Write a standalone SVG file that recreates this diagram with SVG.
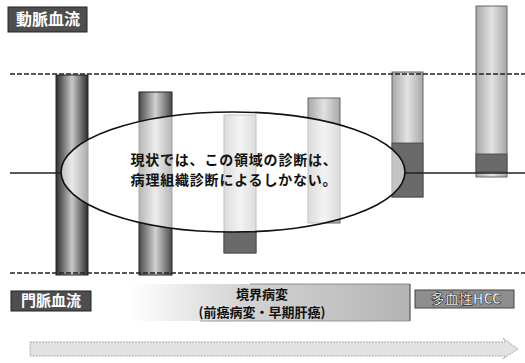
<svg xmlns="http://www.w3.org/2000/svg" width="525" height="363" viewBox="0 0 525 363">
  <defs>
    <linearGradient id="darkBar" x1="0" y1="0" x2="1" y2="0">
      <stop offset="0" stop-color="#2e2e2e"/>
      <stop offset="0.5" stop-color="#c8c8c8"/>
      <stop offset="1" stop-color="#2e2e2e"/>
    </linearGradient>
    <linearGradient id="midBar" x1="0" y1="0" x2="1" y2="0">
      <stop offset="0" stop-color="#4a4a4a"/>
      <stop offset="0.5" stop-color="#d2d2d2"/>
      <stop offset="1" stop-color="#4a4a4a"/>
    </linearGradient>
    <linearGradient id="lightBar" x1="0" y1="0" x2="1" y2="0">
      <stop offset="0" stop-color="#a8a8a8"/>
      <stop offset="0.5" stop-color="#e2e2e2"/>
      <stop offset="1" stop-color="#a8a8a8"/>
    </linearGradient>
    <linearGradient id="fadeBox" x1="0" y1="0" x2="1" y2="0">
      <stop offset="0" stop-color="#c8c8c8" stop-opacity="0"/>
      <stop offset="0.4" stop-color="#c8c8c8" stop-opacity="0.8"/>
      <stop offset="1" stop-color="#b4b4b4"/>
    </linearGradient>
    <style>
      .lbl { font-family: "Noto Sans CJK JP", "Liberation Sans", sans-serif; font-weight: bold; }
      .dark { fill: #4e4e4e; stroke: #222; stroke-width: 1; }
      .light { fill: url(#lightBar); stroke: #666; stroke-width: 1; }
      .seg { fill: #6a6a6a; stroke: #444; stroke-width: 0.8; }
      .dash { stroke: #222; stroke-width: 1.4; stroke-dasharray: 5 2; fill: none; }
      .solid { stroke: #222; stroke-width: 1.3; fill: none; }
    </style>
  </defs>
  <rect width="525" height="363" fill="#ffffff"/>

  <g id="bars">
    <g id="bar1"><rect x="56" y="75" width="32" height="200" fill="url(#darkBar)" stroke="#222"/></g>
    <g id="bar2"><rect x="139" y="92" width="33" height="183" fill="url(#midBar)" stroke="#222"/></g>
    <g id="bar3">
      <rect x="224" y="115" width="32" height="138" class="light"/>
      <rect x="224" y="232" width="32" height="21" class="seg"/>
    </g>
    <g id="bar4"><rect x="308" y="98" width="32" height="125" class="light"/></g>
    <g id="bar5">
      <rect x="392" y="72" width="31" height="125" class="light"/>
      <rect x="392" y="143" width="31" height="54" class="seg"/>
    </g>
    <g id="bar6">
      <rect x="476" y="6" width="31" height="171" class="light"/>
      <rect x="476" y="154" width="31" height="18" class="seg"/>
    </g>
  </g>

  <g id="connectors">
    <line x1="10" y1="74" x2="525" y2="74" class="dash"/>
    <line x1="10" y1="273" x2="525" y2="273" class="dash"/>
    <line x1="10" y1="173" x2="62" y2="173" class="solid"/>
    <line x1="404" y1="173" x2="525" y2="173" class="solid"/>
  </g>

  <g id="ellipse-note">
    <ellipse cx="233" cy="172" rx="172" ry="60" fill="#ffffff" fill-opacity="0.6" stroke="#111" stroke-width="1.6"/>
    <text class="lbl" x="234" y="165" font-size="14" letter-spacing="0.8" text-anchor="middle" fill="#111">現状では、この領域の診断は、</text>
    <text class="lbl" x="234" y="185" font-size="14" letter-spacing="0.8" text-anchor="middle" fill="#111">病理組織診断によるしかない。</text>
  </g>

  <g id="label-artery">
    <rect x="8" y="7" width="79" height="25" class="dark"/>
    <text class="lbl" x="48" y="25" font-size="16" text-anchor="middle" fill="#fff">動脈血流</text>
  </g>

  <g id="label-portal">
    <rect x="11" y="291" width="80" height="20" class="dark"/>
    <text class="lbl" x="51" y="306" font-size="15" text-anchor="middle" fill="#fff">門脈血流</text>
  </g>

  <g id="label-border">
    <rect x="130" y="284" width="280" height="37" fill="url(#fadeBox)"/>
    <line x1="250" y1="284" x2="410" y2="284" stroke="#777" stroke-width="0.8"/>
    <line x1="410" y1="284" x2="410" y2="321" stroke="#555" stroke-width="1.2"/>
    <line x1="200" y1="321" x2="410" y2="321" stroke="#888" stroke-width="0.8"/>
    <text class="lbl" x="262" y="299" font-size="13" text-anchor="middle" fill="#111">境界病変</text>
    <text class="lbl" x="262" y="317" font-size="13" text-anchor="middle" fill="#111">(前癌病変・早期肝癌)</text>
  </g>

  <g id="label-hcc">
    <rect x="415" y="290" width="99" height="18" fill="#8e8e8e" stroke="#444"/>
    <text class="lbl" x="466" y="304" font-size="14" text-anchor="middle" fill="#fff" stroke="#222" stroke-width="0.6">多血性HCC</text>
  </g>

  <g id="progress-arrow">
    <polygon points="30,342 505,342 503,338 518,349 503,359 505,356 30,356" fill="#e2e2e2" stroke="#9a9a9a" stroke-width="0.8" stroke-dasharray="2 1"/>
  </g>
</svg>
